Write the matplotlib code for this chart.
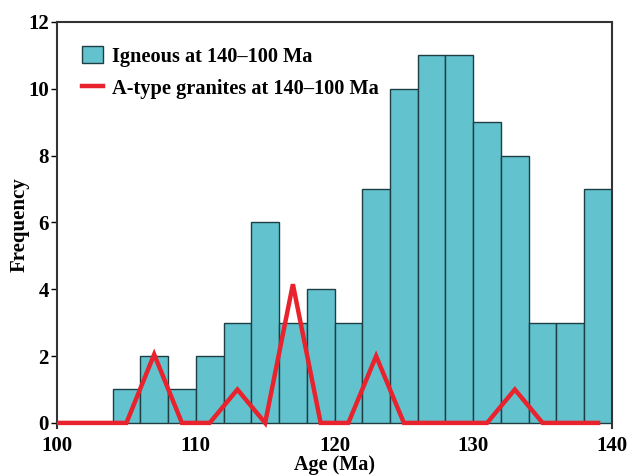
import matplotlib

matplotlib.use("Agg")
import matplotlib.pyplot as plt
import numpy as np

# histogram of igneous ages (2 Ma bins)
bin_left = [104, 106, 108, 110, 112, 114, 116, 118, 120,
            122, 124, 126, 128, 130, 132, 134, 136, 138]
igneous_counts = [1, 2, 1, 2, 3, 6, 3, 4, 3,
                  7, 10, 11, 11, 9, 8, 3, 3, 7]

# A-type granite frequency polygon
granite_age = [100, 105, 107, 109, 111, 113, 115, 117, 119, 121,
               123, 125, 127, 129, 131, 133, 135, 137, 139]
granite_freq = [0, 0, 2.05, 0, 0, 1.0, 0, 4.15, 0, 0,
                2.0, 0, 0, 0, 0, 1.0, 0, 0, 0]

plt.rcParams["font.family"] = ["Liberation Serif", "DejaVu Serif"]
plt.rcParams["font.weight"] = "bold"

fig = plt.figure(figsize=(6.27, 4.76), dpi=100)
ax = fig.add_axes([0.091, 0.101, 0.885, 0.853])

bars = ax.bar(bin_left, igneous_counts, width=2, align="edge",
              color="#62c3cf", edgecolor="#1e3e44", linewidth=1.0,
              label="Igneous at 140\u2013100 Ma", zorder=2)
line, = ax.plot(granite_age, granite_freq, color="#e8232e", linewidth=3.2,
                label="A-type granites at 140\u2013100 Ma", zorder=3,
                solid_joinstyle="miter")

ax.set_xlim(100, 140)
ax.set_ylim(-0.15, 12)
ax.set_xticks([100, 110, 120, 130, 140])
ax.set_yticks([0, 2, 4, 6, 8, 10, 12])
ax.tick_params(axis="x", length=0, pad=6, labelsize=15)
ax.tick_params(axis="y", direction="out", length=4, width=1,
               pad=2, labelsize=15)
for lbl in ax.get_xticklabels() + ax.get_yticklabels():
    lbl.set_fontweight("bold")

ax.spines["bottom"].set_visible(False)
for s in ("left", "top", "right"):
    ax.spines[s].set_linewidth(1.5)
    ax.spines[s].set_color("#333333")

ax.set_xlabel("Age (Ma)", fontsize=14.5, fontweight="bold")
ax.set_ylabel("Frequency", fontsize=15, fontweight="bold")
ax.xaxis.set_label_coords(0.5, -0.066)
ax.yaxis.set_label_coords(-0.05, 0.5)

leg = ax.legend([bars, line], [bars.get_label(), line.get_label()],
                loc="upper left", frameon=False, fontsize=14.7,
                bbox_to_anchor=(0.0, 1.0), handlelength=1.05,
                handleheight=0.9, handletextpad=0.45, borderaxespad=0.8,
                labelspacing=0.55)
for t in leg.get_texts():
    t.set_fontweight("bold")

fig.savefig("out.png", dpi=100)
